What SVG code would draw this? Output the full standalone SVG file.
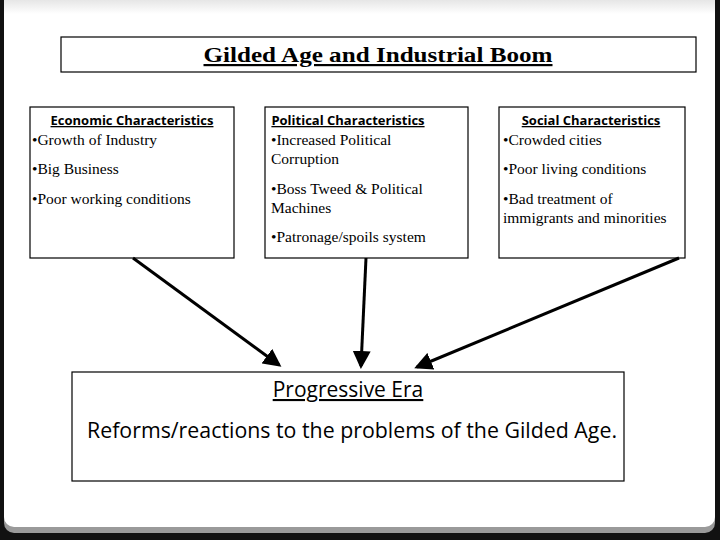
<svg xmlns="http://www.w3.org/2000/svg" width="720" height="540" viewBox="0 0 720 540">
<defs>
<linearGradient id="top" x1="0" y1="0" x2="0" y2="1"><stop offset="0" stop-color="#e6e6e6"/><stop offset="1" stop-color="#ffffff"/></linearGradient>
<marker id="ah" markerWidth="6" markerHeight="6" refX="5" refY="3" orient="auto" markerUnits="strokeWidth"><path d="M0,0 L6,3 L0,6 z" fill="#000"/></marker>
</defs>
<style>
.box{fill:#fff;stroke:#000;stroke-width:1.2}
.h{font-family:"Open Sans","DejaVu Sans",sans-serif;font-size:13px;font-weight:bold;text-decoration:underline;text-anchor:middle}
.t{font-family:"Liberation Serif",serif;font-size:15.5px}
.c{stroke:#000;stroke-width:3;fill:none;marker-end:url(#ah)}
</style>
<rect width="720" height="540" fill="#111"/>
<rect x="4" y="-10" width="711" height="543" rx="10" fill="#9a9a9a"/>
<rect x="4" y="-10" width="711" height="537" rx="10" fill="#fff"/>
<rect x="4" y="0" width="711" height="14" fill="url(#top)"/>
<g id="title"><rect class="box" x="61" y="37" width="635" height="35"/>
<text x="378" y="62" font-family="'Liberation Serif',serif" font-size="22" font-weight="bold" text-anchor="middle" text-decoration="underline" textLength="349" lengthAdjust="spacingAndGlyphs">Gilded Age and Industrial Boom</text></g>
<g id="economic"><rect class="box" x="30" y="107" width="204" height="151"/>
<text class="h" x="132" y="125">Economic Characteristics</text>
<text class="t" x="32" y="145">•Growth of Industry</text>
<text class="t" x="32" y="174">•Big Business</text>
<text class="t" x="32" y="204">•Poor working conditions</text></g>
<g id="political"><rect class="box" x="265" y="107" width="203" height="151"/>
<text class="h" x="348" y="125">Political Characteristics</text>
<text class="t" x="271" y="145">•Increased Political</text>
<text class="t" x="271" y="164">Corruption</text>
<text class="t" x="271" y="194">•Boss Tweed &amp; Political</text>
<text class="t" x="271" y="213">Machines</text>
<text class="t" x="271" y="242">•Patronage/spoils system</text></g>
<g id="social"><rect class="box" x="499" y="107" width="186" height="151"/>
<text class="h" x="591" y="125">Social Characteristics</text>
<text class="t" x="503" y="145">•Crowded cities</text>
<text class="t" x="503" y="174">•Poor living conditions</text>
<text class="t" x="503" y="204">•Bad treatment of</text>
<text class="t" x="503" y="223">immigrants and minorities</text></g>
<g id="progressive"><rect class="box" x="72" y="372" width="552" height="109"/>
<text x="348" y="397" font-family="'Open Sans','DejaVu Sans',sans-serif" font-size="21" text-anchor="middle" text-decoration="underline">Progressive Era</text>
<text x="352" y="438" font-family="'Open Sans','DejaVu Sans',sans-serif" font-size="21" text-anchor="middle" textLength="530" lengthAdjust="spacingAndGlyphs">Reforms/reactions to the problems of the Gilded Age.</text></g>
<g id="connectors">
<line class="c" x1="133" y1="258" x2="279" y2="365"/>
<line class="c" x1="366" y1="258" x2="361" y2="366"/>
<line class="c" x1="679" y1="258" x2="417" y2="367"/>
</g>
</svg>
